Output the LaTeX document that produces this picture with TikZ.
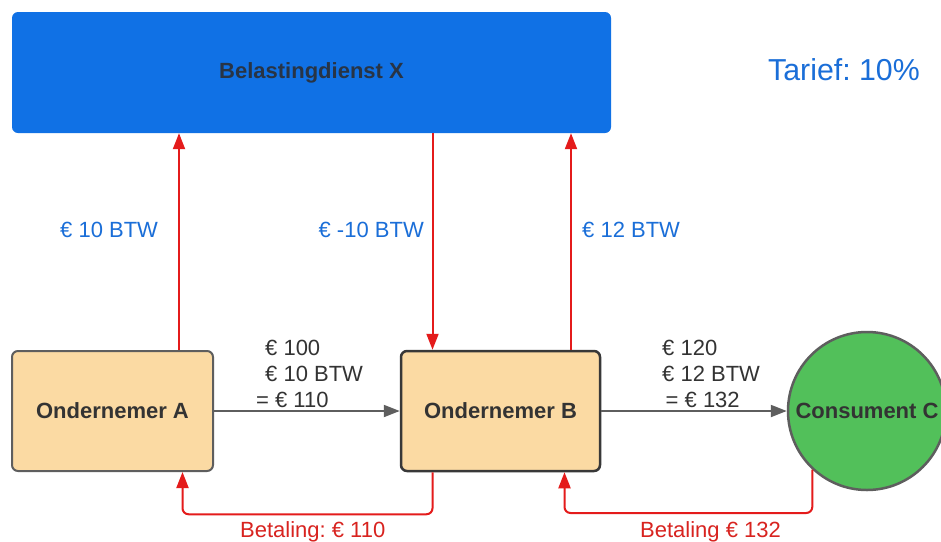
\documentclass[tikz,border=0pt]{standalone}
\usepackage{fontspec}
\setmainfont{Liberation Sans}
\usetikzlibrary{arrows.meta}
\frenchspacing

\definecolor{taxblue}{HTML}{1071E5}
\definecolor{labelblue}{HTML}{1A6ED8}
\definecolor{peach}{HTML}{FBDAA3}
\definecolor{leafgreen}{HTML}{52C05A}
\definecolor{flowred}{HTML}{E41B1B}
\definecolor{textred}{HTML}{D8231F}
\definecolor{flowgray}{HTML}{5E5E5E}
\definecolor{darktext}{HTML}{333333}
\definecolor{boxtext}{HTML}{283445}

\begin{document}
\begin{tikzpicture}[
  x=1pt, y=-1pt,
  txt/.style={font=\fontsize{22}{26}\selectfont, inner sep=0pt},
  party/.style={draw=flowgray, line width=2pt, fill=peach, rounded corners=6pt,
    minimum height=120pt, font=\fontsize{22}{26}\selectfont\bfseries, text=darktext},
  flow/.style={draw=flowgray, line width=2pt, -{Triangle[length=16pt,width=12pt]}},
  tax/.style={draw=flowred, line width=2pt, -{Triangle[length=16pt,width=12pt]}},
  pay/.style={tax, rounded corners=6pt},
]
\useasboundingbox (0,0) rectangle (941,541);
\fill[white] (0,0) rectangle (941,541);

% tax authority
\node[fill=taxblue, rounded corners=6pt, minimum width=599pt, minimum height=121pt,
      font=\fontsize{22}{26}\selectfont\bfseries, text=boxtext]
  (X) at (311.5,72.5) {Belastingdienst X};
\node[txt, font=\fontsize{30.3}{34}\selectfont, text=labelblue, anchor=base west]
  (rate) at (768,80) {Tarief: 10\%};

% the parties in the chain
\node[party, minimum width=201pt] (A) at (112.5,411) {Ondernemer A};
\node[party, draw=black!78, line width=2.5pt, minimum width=199pt] (B) at (500.5,411) {Ondernemer B};
\node[circle, draw=flowgray, line width=2.5pt, fill=leafgreen, minimum size=158pt,
      font=\fontsize{22}{26}\selectfont\bfseries, text=darktext, inner sep=0pt]
  (C) at (867,411) {Consument C};

% goods and invoices
\draw[flow] (A.east) -- (B.west);
\draw[flow] (B.east) -- (C.west);

% VAT to and from the tax authority
\draw[tax] ([xshift=66.5pt]A.north) -- ([xshift=66.5pt]A.north |- X.south);
\draw[tax] ([xshift=121pt]X.south) -- ([xshift=121pt]X.south |- B.north);
\draw[tax] ([xshift=70.5pt]B.north) -- ([xshift=70.5pt]B.north |- X.south);

% payments
\draw[pay] ([xshift=-68pt]B.south) -- ++(0,42) -| ([xshift=70pt]A.south);
\coordinate (cpay) at (C.227);
\draw[pay] (cpay) -- (cpay |- 0,513) -| ([xshift=64pt]B.south);

% labels
\node[txt, text=labelblue, anchor=base west] (l1) at (60,237.5) {€ 10 BTW};
\node[txt, text=labelblue, anchor=base east] (l2) at (424,237.5) {€ -10 BTW};
\node[txt, text=labelblue, anchor=base west] (l3) at (582,237.5) {€ 12 BTW};

% invoice amounts (base anchor sits on the last line)
\node[txt, text=darktext, anchor=base west, align=left] (inv1) at (256,407)
  {\hspace*{9pt}€ 100\\ \hspace*{9pt}€ 10 BTW\\ = € 110};
\node[txt, text=darktext, anchor=base west, align=left] (inv2) at (662,407)
  {€ 120\\ € 12 BTW\\ \hspace*{3.5pt}= € 132};

\node[txt, text=textred, anchor=base west] (p1) at (240,537) {Betaling: € 110};
\node[txt, text=textred, anchor=base west] (p2) at (640,537) {Betaling € 132};
\end{tikzpicture}
\end{document}
